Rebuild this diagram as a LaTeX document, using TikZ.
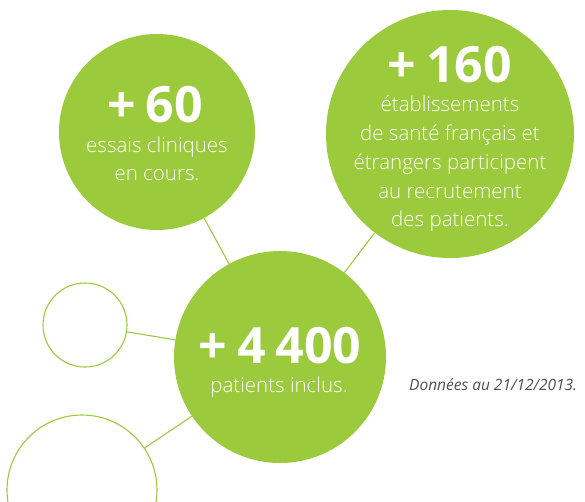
\documentclass[tikz,border=0pt]{standalone}
\usepackage{fontspec}
\setmainfont{Open Sans}
\newfontfamily\lightfont{Open Sans Light}
\definecolor{vert}{RGB}{155,202,60}
\definecolor{txtgray}{RGB}{80,80,80}
\begin{document}
\begin{tikzpicture}[x=1pt,y=-1pt,
  bubble/.style={circle,fill=vert,inner sep=0pt},
  ring/.style={circle,draw=vert,line width=1.1pt,inner sep=0pt},
  link/.style={draw=vert,line width=1.1pt},
  big/.style={font=\fontsize{50}{50}\selectfont\bfseries,text=white,anchor=base,inner sep=0pt},
  body/.style={font=\fontsize{20.5}{20}\lightfont,text=white,anchor=base,inner sep=0pt}]
\useasboundingbox (0,0) rectangle (585,501);
\clip (0,0) rectangle (585,501);
% circles
\node[bubble,minimum size=196pt] (c60) at (157,132) {};
\node[bubble,minimum size=248pt] (c160) at (450,134) {};
\node[bubble,minimum size=212pt] (c4400) at (280,357) {};
\node[ring,minimum size=84pt] (r1) at (85,325) {};
\node[ring,minimum size=150pt] (r2) at (82,490) {};
% connectors
\draw[link] (c60) -- (c4400);
\draw[link] (c160) -- (c4400);
\draw[link] (r1) -- (c4400);
\draw[link] (r2) -- (c4400);
% texts
\node[big] (n60) at (155,122) {+\kern0.2em 60};
\node[body] (l60a) at (157,152) {essais cliniques};
\node[body] (l60b) at (157,180) {en cours.};
\node[big] (n160) at (450,82) {+\kern0.2em 160};
\node[body] (l160a) at (450,111) {établissements};
\node[body] (l160b) at (450,140) {de santé français et};
\node[body] (l160c) at (450,169) {étrangers participent};
\node[body] (l160d) at (450,198) {au recrutement};
\node[body] (l160e) at (450,226) {des patients.};
\node[big] (n4400) at (280,363) {+\kern0.2em 4\kern0.2em 400};
\node[body] (l4400) at (279,392) {patients inclus.};
\node[anchor=base west,inner sep=0pt,font=\fontsize{15.5}{15}\selectfont\itshape,text=txtgray] (date) at (409,390) {Données au 21/12/2013.};
\end{tikzpicture}
\end{document}
